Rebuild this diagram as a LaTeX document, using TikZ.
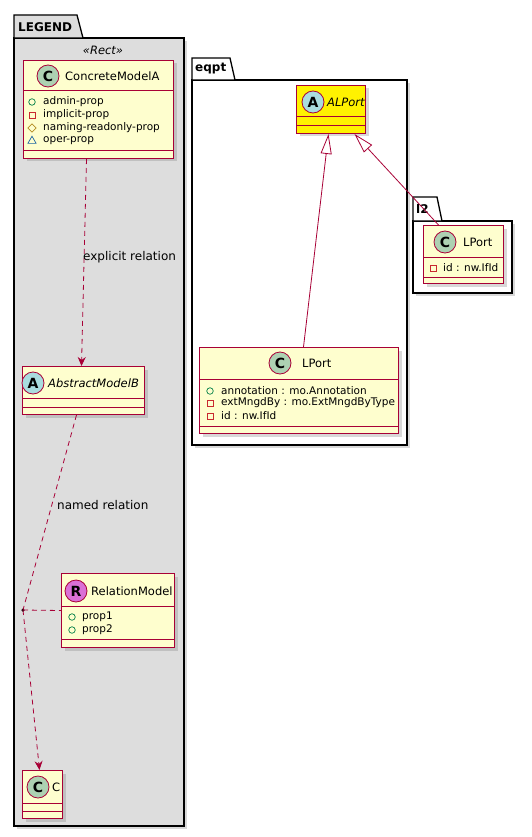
\documentclass[tikz,border=0pt]{standalone}
\usepackage{fontspec}
\setmainfont{DejaVu Sans}
\usetikzlibrary{arrows.meta,shapes.geometric,shadows}

\definecolor{umlred}{HTML}{A80036}
\definecolor{umlfill}{HTML}{FEFECE}
\definecolor{spotC}{HTML}{ADD1B2}
\definecolor{spotA}{HTML}{A9DCDF}
\definecolor{spotR}{HTML}{DA70D6}
\definecolor{legendgray}{HTML}{DDDDDD}
\definecolor{pubgreen}{HTML}{038048}
\definecolor{privred}{HTML}{C82930}
\definecolor{protyellow}{HTML}{B38D22}
\definecolor{pkgblue}{HTML}{1963A0}

\tikzset{
  classbox/.style={draw=umlred, fill=umlfill, line width=1pt, anchor=north west, inner sep=0pt,
    drop shadow={shadow xshift=3pt, shadow yshift=-3pt, opacity=0.3}},
  sep/.style={draw=umlred, line width=1pt},
  spot/.style={circle, draw=umlred, line width=0.8pt, minimum size=22pt, inner sep=0pt,
    font=\bfseries\fontsize{14}{14}\selectfont},
  cname/.style={anchor=west, inner sep=0pt, font=\fontsize{11.5}{13}\selectfont},
  aname/.style={cname, font=\itshape\fontsize{11.5}{13}\selectfont},
  attr/.style={anchor=west, inner sep=0pt, font=\fontsize{10.5}{12}\selectfont},
  pubicon/.style={circle, draw=pubgreen, line width=0.7pt, minimum size=6.5pt, inner sep=0pt},
  privicon/.style={rectangle, draw=privred, line width=0.7pt, minimum size=6pt, inner sep=0pt},
  proticon/.style={diamond, draw=protyellow, line width=0.7pt, minimum size=8.5pt, inner sep=0pt},
  pkgicon/.style={regular polygon, regular polygon sides=3, draw=pkgblue, line width=0.7pt,
    minimum size=9.5pt, inner sep=0pt},
  pkg/.style={draw=black, line width=1.3pt},
  pkgname/.style={anchor=west, inner sep=0pt, font=\bfseries\fontsize{12}{14}\selectfont},
  lbl/.style={anchor=west, inner sep=0pt, font=\fontsize{12}{14}\selectfont},
  rel/.style={draw=umlred, line width=0.8pt, dash pattern=on 5pt off 4pt},
  dep/.style={rel, -{Stealth[length=9pt,width=8pt,inset=3pt]}},
  gen/.style={draw=umlred, line width=0.8pt, -{Triangle[open,length=20pt,width=11pt]}}
}

\begin{document}
\begin{tikzpicture}[x=1pt,y=-1pt]
  \fill[white] (0,0) rectangle (532,837);
  \useasboundingbox (0,0) rectangle (532,837);
  % packages
  \draw[pkg, fill=legendgray, drop shadow={shadow xshift=3pt, shadow yshift=-3pt, opacity=0.3}]
    (14,38) rectangle (184,826);
  \draw[pkg, fill=legendgray] (14,38) -- (14,15) -- (77,15) -- (83,38) -- cycle;
  \node[pkgname] (legend) at (18,27) {LEGEND};
  \node[font=\itshape\fontsize{11.5}{13}\selectfont, inner sep=0pt] (rect) at (103,50) {«Rect»};
  \draw[pkg, fill=white, drop shadow={shadow xshift=3pt, shadow yshift=-3pt, opacity=0.3}]
    (192,80) rectangle (407,445);
  \draw[pkg, fill=white] (192,80) -- (192,58) -- (230,58) -- (235,80) -- cycle;
  \node[pkgname] (eqpt) at (195,69) {eqpt};
  \draw[pkg, fill=white, drop shadow={shadow xshift=3pt, shadow yshift=-3pt, opacity=0.3}]
    (413,221) rectangle (512,293);
  \draw[pkg, fill=white] (413,221) -- (413,197) -- (437,197) -- (442,221) -- cycle;
  \node[pkgname] (ltwo) at (416,209) {l2};

  % ConcreteModelA
  \node[classbox, minimum width=150pt, minimum height=98pt] (cma) at (23,60) {};
  \draw[sep] (23,91) -- (173,91); \draw[sep] (23,151) -- (173,151);
  \node[spot, fill=spotC] (cma-spot) at (48,76) {C};
  \node[cname] (cma-name) at (65,76) {ConcreteModelA};
  \foreach \y/\ic/\txt [count=\i] in {102/pubicon/admin-prop, 115/privicon/implicit-prop,
      128/proticon/naming-readonly-prop, 141/pkgicon/oper-prop}
    {\node[\ic] (cma-i\i) at (32,\y) {}; \node[attr] (cma-t\i) at (43,\y) {\txt};}

  % AbstractModelB
  \node[classbox, minimum width=122pt, minimum height=48pt] (amb) at (22,366) {};
  \draw[sep] (22,398) -- (144,398); \draw[sep] (22,407) -- (144,407);
  \node[spot, fill=spotA] (amb-spot) at (33,383) {A};
  \node[aname] (amb-name) at (48,383) {AbstractModelB};

  % RelationModel
  \node[classbox, minimum width=113pt, minimum height=74pt] (rm) at (61,573) {};
  \draw[sep] (61,606) -- (174,606); \draw[sep] (61,639) -- (174,639);
  \node[spot, fill=spotR] (rm-spot) at (76,591) {R};
  \node[cname] (rm-name) at (91,591) {RelationModel};
  \foreach \y/\txt [count=\i] in {617/prop1, 630/prop2}
    {\node[pubicon] (rm-i\i) at (72,\y) {}; \node[attr] (rm-t\i) at (82,\y) {\txt};}

  % C
  \node[classbox, minimum width=40pt, minimum height=48pt] (cc) at (22,770) {};
  \draw[sep] (22,803) -- (62,803); \draw[sep] (22,811) -- (62,811);
  \node[spot, fill=spotC] (cc-spot) at (38,787) {C};
  \node[cname] (cc-name) at (52,787) {C};

  % ALPort
  \node[classbox, fill=yellow, minimum width=69pt, minimum height=48pt] (alport) at (296,85) {};
  \draw[sep] (296,117) -- (365,117); \draw[sep] (296,126) -- (365,126);
  \node[spot, fill=spotA] (alport-spot) at (313,102) {A};
  \node[aname] (alport-name) at (327,102) {ALPort};

  % eqpt LPort
  \node[classbox, minimum width=199pt, minimum height=86pt] (lport) at (199,347) {};
  \draw[sep] (199,379) -- (398,379); \draw[sep] (199,426) -- (398,426);
  \node[spot, fill=spotC] (lport-spot) at (280,363) {C};
  \node[cname] (lport-name) at (302,363) {LPort};
  \foreach \y/\ic/\txt [count=\i] in {391/pubicon/annotation : mo.Annotation,
      403/privicon/extMngdBy : mo.ExtMngdByType, 416/privicon/id : nw.IfId}
    {\node[\ic] (lport-i\i) at (210,\y) {}; \node[attr] (lport-t\i) at (221,\y) {\txt};}

  % l2 LPort
  \node[classbox, minimum width=80pt, minimum height=58pt] (l2port) at (423,225) {};
  \draw[sep] (423,257) -- (503,257); \draw[sep] (423,277) -- (503,277);
  \node[spot, fill=spotC] (l2port-spot) at (445,242) {C};
  \node[cname] (l2port-name) at (463,242) {LPort};
  \node[privicon] (l2port-i1) at (433,268) {};
  \node[attr] (l2port-t1) at (443,268) {id : nw.IfId};

  % relations
  \node[circle, fill=black, inner sep=0pt, minimum size=3.5pt] (assoc) at (23,610) {};
  \draw[dep] ([xshift=-12pt]cma.south) -- ([xshift=-2pt]amb.north);
  \node[lbl] (explicit) at (83,257) {explicit relation};
  \draw[rel] ([xshift=-7pt]amb.south) -- (assoc.center);
  \draw[dep] (assoc.center) -- ([xshift=-3pt]cc.north);
  \draw[rel] (assoc.center) -- (rm.west);
  \node[lbl] (named) at (57,505) {named relation};
  \draw[gen] ([xshift=4.5pt]lport.north) -- ([xshift=-2.5pt]alport.south);
  \draw[gen] ([xshift=-25pt]l2port.north) -- ([xshift=23.5pt]alport.south);
\end{tikzpicture}
\end{document}
